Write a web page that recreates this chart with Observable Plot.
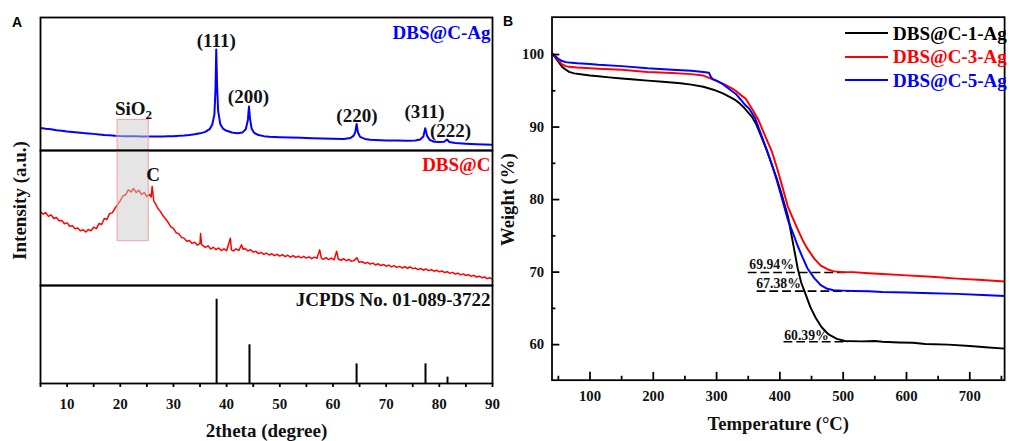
<!DOCTYPE html>
<html><head><meta charset="utf-8">
<script src="https://cdn.jsdelivr.net/npm/d3@7"></script>
<script src="https://cdn.jsdelivr.net/npm/@observablehq/plot@0.6"></script>
<style>
body{margin:0;background:#fff;}
#wrap{position:relative;width:1010px;height:441px;overflow:hidden;font-family:"Liberation Serif","Times New Roman",serif;}
#wrap > div.p{position:absolute;}
.lbl{position:absolute;font-family:"Liberation Sans",Arial,sans-serif;font-weight:bold;font-size:14px;line-height:1;}
.leg{position:absolute;height:20px;font-weight:bold;font-size:19px;line-height:1;white-space:nowrap;display:flex;align-items:center;}
.leg span.sw{display:inline-block;width:43px;height:0;border-top:2px solid;margin-right:5px;}
</style></head><body><div id="wrap"></div><script>
// ---------- Panel A: XRD ----------
const xrdAg = [[5,17],[6,16.4],[7,15.9],[8,15.3],[9,14.8],[10,14.3],[11,13.9],[12,13.5],[13,13.1],[14,12.8],[15,12.5],[16,12.1],[17,11.7],[18,11.4],[19,11.1],[20,10.9],[21,10.8],[22,10.7],[23,10.8],[24,10.6],[25,10.5],[26,10.6],[27,10.5],[28,10.6],[29,10.7],[30,10.8],[31,11.0],[32,11.3],[33,11.7],[34,12.2],[35,12.9],[36,14.0],[36.8,16.0],[37.3,19.5],[37.7,27],[37.9,45],[38.05,76],[38.2,50],[38.4,30],[38.8,20],[39.3,16.5],[40,14.8],[41,13.5],[42,13.0],[43,13.6],[43.6,16],[44.0,23],[44.2,33],[44.4,24],[44.7,16.5],[45.2,13.2],[46,11.6],[47,10.8],[48,10.4],[50,10.0],[52,9.7],[54,9.5],[56,9.3],[58,9.0],[60,8.8],[62,8.7],[63.3,9.4],[63.9,11.2],[64.2,14],[64.45,20],[64.7,13.5],[65.1,10.2],[66,8.7],[67,8.1],[68,7.9],[70,7.6],[72,7.5],[74,7.4],[75.5,7.5],[76.4,8.3],[77,10.5],[77.35,16.8],[77.7,11],[78.2,8.0],[79,6.6],[80,6.3],[80.9,6.6],[81.45,8.3],[81.9,6.4],[83,5.6],[85,5.1],[87,4.7],[90,4.3]];

const xrdC = [[5,54.6],[5.5,52.8],[6,53.9],[6.5,51.2],[7,52.3],[7.5,49.6],[8,50.4],[8.5,47.9],[9,48.1],[9.5,45.8],[10,46.4],[10.5,43.9],[11,44.2],[11.5,42.1],[12,42.6],[12.5,40.5],[13,41.3],[13.5,39.6],[14,41.4],[14.5,40.6],[15,43.2],[15.5,42.1],[16,45.9],[16.5,45.2],[17,49.6],[17.5,48.9],[18,53.4],[18.5,53.8],[19,57.2],[19.5,59.9],[20,62.8],[20.5,66.3],[21,67.2],[21.5,70.9],[22,69.3],[22.5,71.8],[23,68.9],[23.5,70.6],[24,67.4],[24.5,68.9],[25,65.8],[25.5,67.4],[25.8,65.5],[26,73.4],[26.3,62.5],[26.6,60.8],[27,57.6],[27.5,55.1],[28,51.9],[28.5,49.4],[29,46.8],[29.5,43.5],[30,42.3],[30.5,39.1],[31,38.4],[31.5,35.6],[32,35.1],[32.5,32.8],[33,33.4],[33.5,31.2],[34,32.1],[34.5,29.9],[35,31.2],[35.1,38.5],[35.3,30.2],[35.7,29.1],[36,28.2],[36.5,29.4],[37,27.1],[37.5,28.3],[38,26.6],[38.5,27.8],[39,25.9],[39.5,27.2],[40,25.8],[40.7,35.0],[40.9,26.4],[41.3,25.6],[41.8,27.1],[42.3,25.9],[42.8,30.1],[43.1,26.8],[43.5,27.4],[44,25.6],[44.5,26.5],[45,24.7],[45.5,25.3],[46,23.6],[46.5,24.5],[47,23.1],[47.5,24.0],[48,22.6],[48.5,23.5],[49,22.2],[49.5,23.1],[50,21.8],[50.5,22.9],[51,21.4],[51.5,22.4],[52,21.0],[52.5,22.1],[53,20.8],[53.5,21.7],[54,20.5],[54.5,21.6],[55,20.3],[55.5,21.2],[56,19.9],[56.5,21.0],[57,20.2],[57.5,26.4],[57.8,20.5],[58.2,19.4],[58.7,20.6],[59.2,19.2],[59.7,20.3],[60.2,19.0],[60.7,25.3],[61,19.6],[61.5,18.7],[62,19.8],[62.5,18.4],[63,19.3],[63.5,17.9],[64,18.6],[64.5,20.6],[64.9,17.2],[65.5,17.6],[66,16.3],[66.5,17.1],[67,15.8],[67.5,16.6],[68,15.2],[68.5,16.1],[69,14.8],[69.5,15.6],[70,14.3],[70.5,15.1],[71,13.8],[71.5,14.7],[72,13.4],[72.5,14.2],[73,13.0],[73.5,13.9],[74,12.6],[74.5,13.8],[75,12.5],[75.5,12.9],[76,11.8],[76.5,12.6],[77,11.3],[77.5,12.2],[78,11.0],[78.5,11.7],[79,10.6],[79.5,11.3],[80,10.1],[80.5,10.8],[81,9.6],[81.5,10.2],[82,9.0],[82.5,9.7],[83,8.5],[83.5,9.1],[84,7.9],[84.5,8.6],[85,7.4],[85.5,8.0],[86,6.8],[86.5,7.5],[87,6.3],[87.5,6.9],[88,5.8],[88.5,6.3],[89,5.1],[89.5,5.7],[90,4.6]];

const jcpdsPos = [38.12, 44.30, 64.44, 77.40, 81.54];
const jcpdsInt = [86, 39.5, 20, 20, 6.5];

const peakLabels = ["(111)", "(200)", "(220)", "(311)", "(222)"];
const peakLabelX = [38.05, 44.1, 64.5, 77.2, 82.1];
const peakLabelY = [82.7, 40.1, 25.8, 28.8, 15.0];

const sio2Band = {x1: 19.5, x2: 25.35, topInAg: 23, bottomInC: 32.8};
const sio2Label = {text: "SiO2", x: 22.5, y: 31.4};
const cLabel = {text: "C", x: 26.2, y: 81.7};

const xrdMajor = [10, 20, 30, 40, 50, 60, 70, 80, 90];
const xrdMinor = [5, 15, 25, 35, 45, 55, 65, 75, 85];

// ---------- Panel B: TGA ----------
const tgaNames = ["DBS@C-1-Ag", "DBS@C-3-Ag", "DBS@C-5-Ag"];
const tgaColors = ["#000000", "#ff0000", "#0000ff"];
const tga1 = [[41,100.1],[45,99.6],[50,99.0],[56,98.3],[62,97.9],[67,97.6],[75,97.4],[88,97.25],[100,97.1],[113,97.0],[130,96.85],[150,96.7],[170,96.55],[191,96.4],[215,96.25],[243,96.05],[260,95.85],[279,95.55],[295,95.15],[310,94.65],[322,94.1],[330,93.7],[336,93.3],[343,92.7],[351,91.9],[356,91.4],[362,90.5],[371.5,88.5],[380,86.6],[387,84.9],[395,82.9],[402.5,80.8],[412.7,77.7],[420.5,74.1],[428.2,70.5],[433.5,68.6],[441,66.85],[448,65.2],[456.5,63.7],[466,62.4],[477,61.4],[490,60.8],[503,60.5],[529,60.45],[550,60.5],[562,60.4],[588,60.3],[610,60.25],[630,60.1],[666,60.0],[700,59.8],[730,59.6],[755,59.45]];
const tga3 = [[41,100.1],[45,99.7],[50,99.2],[56,98.65],[62,98.4],[67,98.3],[80,98.2],[100,98.1],[113,98.05],[150,97.9],[191,97.6],[230,97.45],[260,97.3],[279,97.1],[296,96.5],[310,96.0],[325,95.3],[330,95.0],[340,94.3],[346,93.9],[351,93.2],[358,92.2],[366,91.0],[371.5,89.85],[380,88.1],[387,86.7],[395,84.5],[402.5,82.2],[412.7,79.0],[420.5,77.4],[428.2,75.9],[436,74.4],[443.7,73.2],[454,71.9],[464.5,70.9],[475,70.4],[485,70.1],[500,70.0],[516,70.0],[540,69.85],[562,69.75],[600,69.55],[640,69.35],[680,69.1],[720,68.9],[755,68.7]];
const tga5 = [[41,100.1],[45,99.8],[50,99.4],[56,99.1],[62,98.95],[67,98.9],[80,98.8],[100,98.7],[113,98.6],[150,98.4],[191,98.1],[230,97.9],[260,97.75],[279,97.6],[288,97.5],[291,96.9],[294,96.6],[300,96.4],[310,95.9],[325,94.9],[330,94.6],[338,93.8],[345.6,93.0],[351,92.6],[361,91.2],[371.5,88.7],[380,86.7],[387,84.9],[395,82.7],[402.5,80.4],[412.7,77.2],[420.5,75.4],[428.2,73.6],[436,72.0],[443.7,70.5],[454,69.2],[464.5,68.2],[475,67.7],[485,67.5],[500,67.45],[516,67.4],[540,67.35],[562,67.25],[600,67.2],[640,67.1],[680,67.0],[720,66.85],[755,66.7]];

const annText = ["69.94%", "67.38%", "60.39%"];
const annTextT = [387, 398, 442];
const annTextW = [71.1, 68.45, 61.3];
const dashW = [69.94, 67.38, 60.39];
const dashT1 = [350, 364, 406.5];
const dashT2 = [511, 511, 508];

const tgaMajorX = [100, 200, 300, 400, 500, 600, 700];
const tgaMinorX = [50, 150, 250, 350, 450, 550, 650, 750];
const tgaMajorY = [60, 70, 80, 90, 100];
const tgaMinorY = [65, 75, 85, 95];

// ---------- build ----------
const wrap = document.getElementById("wrap");
const serif = "'Liberation Serif', 'Times New Roman', serif";
const svgStyle = {background: "transparent", overflow: "visible", fontFamily: serif};
function place(el, left, top) {
  const d = document.createElement("div");
  d.className = "p"; d.style.left = left + "px"; d.style.top = top + "px";
  d.appendChild(el); wrap.appendChild(d);
}
const px = d => d[0], py = d => d[1];
const frame = () => Plot.frame({stroke: "#000", strokeWidth: 1.8});
const bold = {fontWeight: "bold"};

// A1: DBS@C-Ag
const A1 = Plot.plot({
  width: 472, height: 145, marginLeft: 10, marginRight: 10, marginTop: 10, marginBottom: 2,
  x: {domain: [5, 90], axis: null}, y: {domain: [0, 100], axis: null}, style: svgStyle,
  marks: [
    Plot.line(xrdAg, {x: px, y: py, stroke: "#0000ff", strokeWidth: 2, clip: true}),
    Plot.rect([sio2Band], {x1: "x1", x2: "x2", y1: () => -30, y2: "topInAg", fill: "#cccccc", fillOpacity: 0.5, stroke: "#f4a0a0", strokeWidth: 1, clip: true}),
    Plot.text(peakLabels, {x: (d, i) => peakLabelX[i], y: (d, i) => peakLabelY[i], text: d => d, fontSize: 19, ...bold, fill: "#111"}),
    Plot.text([sio2Label], {x: "x", y: "y", text: "text", fontSize: 19, ...bold, fill: "#111"}),
    Plot.text(["DBS@C-Ag"], {text: d => d, frameAnchor: "top-right", textAnchor: "end", lineAnchor: "middle", dx: -2, dy: 15, fill: "#0000ff", fontSize: 19, ...bold}),
    frame()
  ]
});
// A2: DBS@C
const A2 = Plot.plot({
  width: 472, height: 139, marginLeft: 10, marginRight: 10, marginTop: 2, marginBottom: 2,
  x: {domain: [5, 90], axis: null}, y: {domain: [0, 100], axis: null}, style: svgStyle,
  marks: [
    Plot.line(xrdC, {x: px, y: py, stroke: "#ff0000", strokeWidth: 1.5, clip: true}),
    Plot.rect([sio2Band], {x1: "x1", x2: "x2", y1: "bottomInC", y2: () => 130, fill: "#cccccc", fillOpacity: 0.5, stroke: "#f4a0a0", strokeWidth: 1, clip: true}),
    Plot.text([cLabel], {x: "x", y: "y", text: "text", fontSize: 19, ...bold, fill: "#111"}),
    Plot.text(["DBS@C"], {text: d => d, frameAnchor: "top-right", textAnchor: "end", lineAnchor: "middle", dx: -2, dy: 14, fill: "#ff0000", fontSize: 19, ...bold}),
    Plot.text(["Intensity (a.u.)"], {text: d => d, frameAnchor: "left", textAnchor: "middle", lineAnchor: "middle", rotate: -90, dx: -21, dy: -17.5, fontSize: 19, ...bold, fill: "#111"}),
    frame()
  ]
});
// A3: JCPDS sticks
const A3 = Plot.plot({
  width: 472, height: 156, marginLeft: 10, marginRight: 10, marginTop: 2, marginBottom: 56,
  x: {domain: [5, 90], label: null}, y: {domain: [0, 100], axis: null}, style: svgStyle,
  marks: [
    Plot.ruleX(jcpdsPos, {x: d => d, y1: () => 0, y2: (d, i) => jcpdsInt[i], stroke: "#000", strokeWidth: 2}),
    Plot.text(["JCPDS No. 01-089-3722"], {text: d => d, frameAnchor: "top-right", textAnchor: "end", lineAnchor: "middle", dx: -2, dy: 14.7, fill: "#111", fontSize: 19, ...bold}),
    Plot.axisX(xrdMajor, {tickSize: 4, tickPadding: 11, fontSize: 15, ...bold, strokeWidth: 1.8, label: null, fill: "#111"}),
    Plot.axisX(xrdMinor, {tickSize: 4, tickFormat: () => "", strokeWidth: 1.8, label: null}),
    Plot.text(["2theta (degree)"], {text: d => d, frameAnchor: "bottom", textAnchor: "middle", lineAnchor: "middle", dy: 47, fontSize: 19, ...bold, fill: "#111"}),
    frame()
  ]
});

// B: TGA
const frameW = 530 - 62.7 - 6, frameH = 441 - 17 - 54;
const tgaAll = [tga1, tga3, tga5];
const B = Plot.plot({
  width: 530, height: 441, marginLeft: 62.7, marginRight: 6, marginTop: 17, marginBottom: 54,
  x: {domain: [40, 755], label: null}, y: {domain: [55.1, 105.15], label: null}, style: svgStyle,
  marks: [
    Plot.ruleY(dashW, {y: d => d, x1: (d, i) => dashT1[i], x2: (d, i) => dashT2[i], stroke: "#000", strokeWidth: 1.6, strokeDasharray: "9,4"}),
    ...tgaAll.map((s, k) => Plot.line(s, {x: px, y: py, stroke: tgaColors[k], strokeWidth: 2, clip: true})),
    Plot.text(annText, {x: (d, i) => annTextT[i], y: (d, i) => annTextW[i], text: d => d, fontSize: 14, ...bold, fill: "#111"}),
    Plot.axisX(tgaMajorX, {tickSize: 0, tickPadding: 11, fontSize: 15, ...bold, label: null, fill: "#111"}),
    Plot.axisY(tgaMajorY, {tickSize: 0, tickPadding: 8, fontSize: 15, ...bold, label: null, fill: "#111"}),
    Plot.tickX(tgaMajorX, {x: d => d, insetTop: frameH - 8, stroke: "#000", strokeWidth: 1.8}),
    Plot.tickX(tgaMinorX, {x: d => d, insetTop: frameH - 4, stroke: "#000", strokeWidth: 1.8}),
    Plot.tickY(tgaMajorY, {y: d => d, insetRight: frameW - 8, stroke: "#000", strokeWidth: 1.8}),
    Plot.tickY(tgaMinorY, {y: d => d, insetRight: frameW - 4, stroke: "#000", strokeWidth: 1.8}),
    Plot.text(["Weight (%)"], {text: d => d, frameAnchor: "left", textAnchor: "middle", lineAnchor: "middle", rotate: -90, dx: -44.4, dy: 1, fontSize: 19, ...bold, fill: "#111"}),
    Plot.text(["Temperature (°C)"], {text: d => d, frameAnchor: "bottom", textAnchor: "middle", lineAnchor: "middle", dy: 44.3, fontSize: 19, ...bold, fill: "#111"}),
    frame()
  ]
});

place(B, 490, 0);
place(A1, 30, 7);
place(A2, 30, 148);
place(A3, 30, 283);

// subscript for SiO2
A1.querySelectorAll("text").forEach(t => {
  if (t.textContent === "SiO2") t.innerHTML = 'SiO<tspan font-size="13" dy="4">2</tspan>';
});

// panel letters
[["A", 12, 15], ["B", 503, 14]].forEach(([s, l, t]) => {
  const d = document.createElement("div");
  d.className = "lbl"; d.textContent = s; d.style.left = l + "px"; d.style.top = t + "px";
  wrap.appendChild(d);
});

// legend
const legY = [33.3, 56.7, 80];
tgaNames.forEach((n, i) => {
  const d = document.createElement("div");
  d.className = "leg";
  d.style.left = "845px"; d.style.top = (legY[i] - 10) + "px"; d.style.color = tgaColors[i];
  d.innerHTML = `<span class="sw" style="border-color:${tgaColors[i]}"></span>${n}`;
  wrap.appendChild(d);
});
</script></body></html>
